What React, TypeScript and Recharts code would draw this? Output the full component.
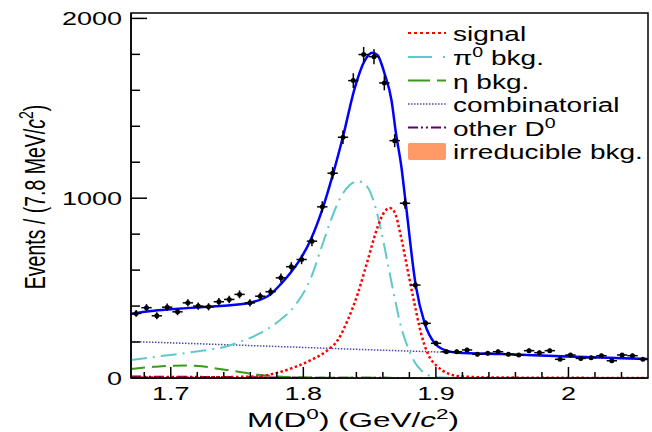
import React from "react";
import { ComposedChart, Line, Area, Scatter, ErrorBar, XAxis, YAxis, ReferenceArea, Legend } from "recharts";

// D0 mass histogram, 7.8 MeV bins
const binCenters = [
  1.6739, 1.6817, 1.6895, 1.6973, 1.7051, 1.7129, 1.7207, 1.7285, 1.7363, 1.7441,
  1.7519, 1.7597, 1.7675, 1.7753, 1.7831, 1.7909, 1.7987, 1.8065, 1.8143, 1.8221,
  1.8299, 1.8377, 1.8455, 1.8533, 1.8611, 1.8689, 1.8767, 1.8845, 1.8923, 1.9001,
  1.9079, 1.9157, 1.9235, 1.9313, 1.9391, 1.9469, 1.9547, 1.9625, 1.9703, 1.9781,
  1.9859, 1.9937, 2.0015, 2.0093, 2.0171, 2.0249, 2.0327, 2.0405, 2.0483, 2.0561,
];
const counts = [
  359, 391, 346, 394, 368, 418, 400, 396, 424, 437,
  465, 418, 455, 480, 557, 619, 659, 761, 952, 1139,
  1339, 1654, 1799, 1787, 1641, 1320, 972, 517, 304, 193,
  146, 146, 156, 132, 137, 146, 132, 128, 152, 141,
  152, 104, 128, 109, 113, 124, 96, 128, 124, 104,
];
const countErrors = [
  19, 20, 19, 20, 19, 20, 20, 20, 21, 21,
  22, 20, 21, 22, 24, 25, 26, 28, 31, 34,
  37, 41, 42, 42, 41, 36, 31, 23, 17, 14,
  12, 12, 12, 11, 12, 12, 11, 11, 12, 12,
  12, 10, 11, 10, 11, 11, 10, 11, 11, 10,
];
const halfBin = 0.0039;

// fit components
const fitX = [1.67, 1.685, 1.7, 1.715, 1.73, 1.745, 1.7607, 1.7757, 1.7833, 1.7908, 1.7983, 1.8059, 1.8142, 1.8222, 1.8305, 1.8383, 1.8463, 1.852, 1.856, 1.8614, 1.8665, 1.8699, 1.874, 1.8772, 1.8848, 1.8916, 1.8991, 1.9079, 1.9164, 1.95, 2.0, 2.06];
const fitY = [356, 372, 382, 390, 397, 405, 420, 468, 525, 590, 668, 775, 935, 1130, 1360, 1600, 1765, 1809, 1795, 1690, 1545, 1360, 1172, 975, 515, 302, 193, 152, 141, 133, 119, 105];

const signalX = [1.67, 1.72, 1.75, 1.7657, 1.7808, 1.7934, 1.8059, 1.8185, 1.826, 1.8335, 1.8411, 1.8486, 1.8561, 1.8612, 1.865, 1.8687, 1.8737, 1.8787, 1.8838, 1.8888, 1.8938, 1.9013, 1.9089, 1.9164, 1.94, 2.06];
const signalY = [2, 3, 6, 9, 30, 60, 100, 156, 211, 322, 470, 656, 841, 924, 946, 924, 785, 600, 415, 248, 137, 63, 26, 11, 3, 0];

const pi0X = [1.67, 1.6928, 1.718, 1.7431, 1.7557, 1.7682, 1.7808, 1.7934, 1.8059, 1.8134, 1.8209, 1.8285, 1.8348, 1.8411, 1.8473, 1.8536, 1.8586, 1.8637, 1.8687, 1.8737, 1.8787, 1.8838, 1.8888, 1.8938, 1.8989, 1.92, 2.06];
const pi0Y = [100, 122, 146, 178, 211, 252, 313, 400, 560, 720, 880, 1010, 1072, 1094, 1072, 970, 822, 637, 452, 285, 174, 91, 44, 17, 4, 0, 0];

const etaX = [1.67, 1.687, 1.7, 1.712, 1.725, 1.737, 1.75, 1.762, 1.775, 1.787, 1.81, 1.85, 1.9, 2.06];
const etaY = [50, 62, 68, 69, 64, 50, 36, 22, 12, 6, 2, 1, 0, 0];

const combX = [1.67, 1.75, 1.8, 1.85, 1.9, 1.95, 2.0, 2.06];
const combY = [203, 183, 170, 157, 145, 132, 118, 104];

const otherX = [1.67, 1.7, 1.73, 1.76, 1.8, 1.85, 1.9, 2.06];
const otherY = [8, 7, 6, 4, 2, 1, 0, 0];

const irredX = [1.67, 1.8, 1.86, 1.9, 2.06];
const irredY = [3, 4, 5, 4, 3];

const xTicks = [1.68, 1.7, 1.72, 1.74, 1.76, 1.78, 1.8, 1.82, 1.84, 1.86, 1.88, 1.9, 1.92, 1.94, 1.96, 1.98, 2, 2.02, 2.04];
const xMajor = [1.7, 1.8, 1.9, 2];
const yTicks = [0, 200, 400, 600, 800, 1000, 1200, 1400, 1600, 1800, 2000];
const yMajor = [0, 1000, 2000];

const pts = (xs: number[], ys: number[]) => xs.map((x, i) => ({ x, y: ys[i] }));
const histData = binCenters.map((x, i) => ({ x, y: counts[i], err: countErrors[i], xerr: halfBin }));

const FONT = "'Liberation Sans', Arial, Helvetica, sans-serif";

function XTick(props: any) {
  const { x, y, payload } = props;
  const major = xMajor.includes(payload.value);
  return (
    <g>
      <line x1={x} x2={x} y1={y} y2={y - (major ? 11 : 6)} stroke="#000" strokeWidth={1.5} />
      {major && (
        <text transform={`translate(${x},${y + 22}) scale(1.5,1)`} textAnchor="middle" fontSize={18} fontFamily={FONT} fill="#000">
          {String(payload.value)}
        </text>
      )}
    </g>
  );
}

function YTick(props: any) {
  const { x, y, payload } = props;
  const major = yMajor.includes(payload.value);
  return (
    <g>
      <line x1={x} x2={x + (major ? 16 : 9)} y1={y} y2={y} stroke="#000" strokeWidth={1.5} />
      {major && (
        <text transform={`translate(${x - 9},${y + 7}) scale(1.5,1)`} textAnchor="end" fontSize={18} fontFamily={FONT} fill="#000">
          {String(payload.value)}
        </text>
      )}
    </g>
  );
}

function XTitle() {
  return (
    <text transform="translate(353,427) scale(1.5,1)" textAnchor="middle" fontSize={21} fontFamily={FONT} fill="#000">
      M(D<tspan dy={-8} fontSize={15}>0</tspan><tspan dy={8}>) (GeV/</tspan><tspan fontStyle="italic">c</tspan>
      <tspan dy={-8} fontSize={15}>2</tspan><tspan dy={8}>)</tspan>
    </text>
  );
}

function YTitle() {
  return (
    <text transform="translate(45,197) rotate(-90) scale(1,1.5)" textAnchor="middle" fontSize={19.5} fontFamily={FONT} fill="#000">
      Events / (7.8 MeV/<tspan fontStyle="italic">c</tspan><tspan dy={-8} fontSize={14}>2</tspan><tspan dy={8}>)</tspan>
    </text>
  );
}

function LegendBox() {
  const rows = [33, 57, 80.5, 104, 127.5, 151];
  const t = (i: number, content: React.ReactNode) => (
    <text transform={`translate(53,${rows[i] + 8}) scale(1.4,1)`} fontSize={20} fontFamily={FONT} fill="#000">
      {content}
    </text>
  );
  return (
    <svg width={252} height={170}>
      <line x1={8} x2={46} y1={rows[0]} y2={rows[0]} stroke="#ff0000" strokeWidth={2} strokeDasharray="3 3" />
      {t(0, "signal")}
      <line x1={8} x2={46} y1={rows[1]} y2={rows[1]} stroke="#5fc9c9" strokeWidth={2} strokeDasharray="24 11 2 20" />
      {t(1, <>π<tspan dy={-8} fontSize={14}>0</tspan><tspan dy={8}> bkg.</tspan></>)}
      <line x1={8} x2={46} y1={rows[2]} y2={rows[2]} stroke="#3a9a1a" strokeWidth={2} strokeDasharray="22 7 9 10" />
      {t(2, "η bkg.")}
      <line x1={8} x2={46} y1={rows[3]} y2={rows[3]} stroke="#4848a8" strokeWidth={1.5} strokeDasharray="1.5 1.5" />
      {t(3, "combinatorial")}
      <line x1={8} x2={46} y1={rows[4]} y2={rows[4]} stroke="#660066" strokeWidth={2} strokeDasharray="10 3 2 3 2 3" />
      {t(4, <>other D<tspan dy={-8} fontSize={14}>0</tspan></>)}
      <rect x={8} y={143} width={38} height={17} rx={2} fill="#ff9966" />
      {t(5, "irreducible bkg.")}
    </svg>
  );
}

export default function App() {
  return (
    <div style={{ position: "absolute", left: 0, top: 0, width: 652, height: 432, background: "#fff" }}>
      <ComposedChart width={652} height={432} margin={{ top: 13, right: 4, bottom: 0, left: 0 }}>
        <XAxis
          dataKey="x"
          type="number"
          domain={[1.67, 2.06]}
          allowDataOverflow
          ticks={xTicks}
          interval={0}
          tickSize={0}
          tickMargin={0}
          tick={<XTick />}
          height={54}
          axisLine={{ stroke: "#000", strokeWidth: 1.5 }}
          label={<XTitle />}
        />
        <YAxis
          type="number"
          domain={[0, 2030]}
          allowDataOverflow
          ticks={yTicks}
          interval={0}
          tickSize={0}
          tickMargin={0}
          tick={<YTick />}
          width={131}
          axisLine={{ stroke: "#000", strokeWidth: 1.5 }}
          label={<YTitle />}
        />
        <ReferenceArea x1={1.67} x2={2.06} y1={0} y2={2030} fill="none" stroke="#000" strokeWidth={1.5} />
        <Area data={pts(irredX, irredY)} dataKey="y" type="monotone" fill="#ff9966" fillOpacity={1} stroke="none" isAnimationActive={false} />
        <Line data={pts(otherX, otherY)} dataKey="y" type="monotone" stroke="#660066" strokeWidth={2} strokeDasharray="10 3 2 3 2 3" dot={false} isAnimationActive={false} />
        <Line data={pts(etaX, etaY)} dataKey="y" type="monotone" stroke="#3a9a1a" strokeWidth={2} strokeDasharray="14 7" dot={false} isAnimationActive={false} />
        <Line data={pts(combX, combY)} dataKey="y" type="monotone" stroke="#4848a8" strokeWidth={1.5} strokeDasharray="1.5 1.5" dot={false} isAnimationActive={false} />
        <Line data={pts(pi0X, pi0Y)} dataKey="y" type="monotone" stroke="#5fc9c9" strokeWidth={2} strokeDasharray="16 6 2 6" dot={false} isAnimationActive={false} />
        <Line data={pts(signalX, signalY)} dataKey="y" type="monotone" stroke="#ff0000" strokeWidth={2.5} strokeDasharray="2.5 2.5" dot={false} isAnimationActive={false} />
        <Line data={pts(fitX, fitY)} dataKey="y" type="monotone" stroke="#0000ff" strokeWidth={2.5} dot={false} isAnimationActive={false} />
        <Scatter data={histData} dataKey="y" fill="#000" isAnimationActive={false}
          shape={(p: any) => <circle cx={p.cx} cy={p.cy} r={2.5} fill="#000" />}>
          <ErrorBar dataKey="err" direction="y" width={0} stroke="#000" strokeWidth={1.5} />
          <ErrorBar dataKey="xerr" direction="x" width={0} stroke="#000" strokeWidth={1.5} />
        </Scatter>
        <Legend layout="vertical" align="center" verticalAlign="middle"
          wrapperStyle={{ position: "absolute", left: 400, top: 0, width: 252, height: 170 }}
          content={() => <LegendBox />} />
      </ComposedChart>
    </div>
  );
}
